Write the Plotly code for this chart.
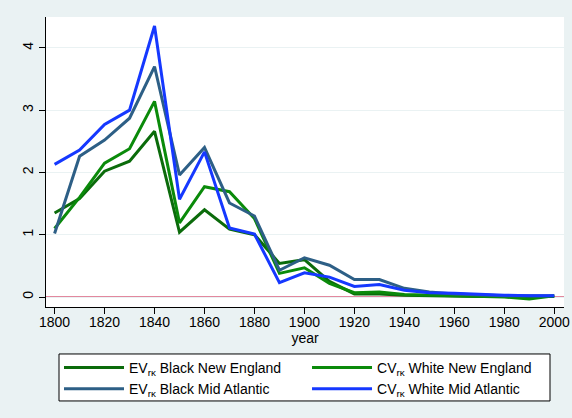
import plotly.graph_objects as go

# Decades covered by the series
years = [1800, 1810, 1820, 1830, 1840, 1850, 1860, 1870, 1880, 1890, 1900,
         1910, 1920, 1930, 1940, 1950, 1960, 1970, 1980, 1990, 2000]

ev_black_ne = [1.35, 1.58, 2.02, 2.18, 2.66, 1.04, 1.40, 1.09, 1.00, 0.54, 0.60,
               0.25, 0.05, 0.05, 0.03, 0.02, 0.02, 0.01, 0.01, 0.01, 0.01]
cv_white_ne = [1.10, 1.60, 2.15, 2.38, 3.14, 1.19, 1.77, 1.69, 1.26, 0.38, 0.47,
               0.22, 0.07, 0.08, 0.04, 0.03, 0.02, 0.01, 0.00, -0.03, 0.02]
ev_black_ma = [1.02, 2.26, 2.52, 2.87, 3.70, 1.96, 2.40, 1.51, 1.30, 0.43, 0.63,
               0.51, 0.28, 0.28, 0.14, 0.08, 0.05, 0.03, 0.02, 0.02, 0.02]
cv_white_ma = [2.13, 2.36, 2.77, 3.00, 4.35, 1.57, 2.33, 1.11, 1.01, 0.23, 0.39,
               0.32, 0.17, 0.20, 0.11, 0.07, 0.06, 0.04, 0.03, 0.02, 0.02]

series_names = [
    "EV<sub>rκ</sub> Black New England",
    "CV<sub>rκ</sub> White New England",
    "EV<sub>rκ</sub> Black Mid Atlantic",
    "CV<sub>rκ</sub> White Mid Atlantic",
]
series_values = [ev_black_ne, cv_white_ne, ev_black_ma, cv_white_ma]
series_colors = ["#0b6b0b", "#0a8a0a", "#2d5f86", "#1538ff"]
# EV series go in the left legend column, CV series in the right one
series_legends = ["legend", "legend2", "legend", "legend2"]

x_ticks = list(range(1800, 2001, 20))
y_ticks = [0, 1, 2, 3, 4]

BG = "#eaf2f3"
FONT = "Liberation Sans, Arial, Helvetica, sans-serif"

fig = go.Figure()
for name, vals, col, leg in zip(series_names, series_values, series_colors, series_legends):
    fig.add_trace(go.Scatter(
        x=years, y=vals, mode="lines", name=name, legend=leg,
        line=dict(color=col, width=3),
    ))

# Reference line at zero
fig.add_shape(type="line", xref="paper", x0=0, x1=1, yref="y", y0=0, y1=0,
              line=dict(color="#d9607e", width=1.8), layer="below")

# Frame around both legend columns
fig.add_shape(type="rect", xref="paper", yref="paper",
              x0=0.0251, x1=0.973, y0=-0.324, y1=-0.162,
              fillcolor="white", line=dict(color="black", width=1), layer="below")

legend_common = dict(
    orientation="v", xanchor="left", y=-0.155, yanchor="top",
    bgcolor="rgba(0,0,0,0)", borderwidth=0,
    font=dict(size=14, family=FONT, color="black"),
    tracegroupgap=0, itemwidth=60,
)

fig.update_layout(
    width=572, height=418,
    margin=dict(l=46, r=8, t=17, b=111, autoexpand=False),
    paper_bgcolor=BG, plot_bgcolor="white",
    font=dict(family=FONT, size=14, color="black"),
    showlegend=True,
    legend=dict(x=0.0251, **legend_common),
    legend2=dict(x=0.5039, **legend_common),
)

fig.update_xaxes(
    range=[1796.56, 2003.9], tickvals=x_ticks,
    showgrid=False, zeroline=False,
    showline=True, linecolor="black", linewidth=1,
    ticks="outside", ticklen=6, tickcolor="black",
    tickfont=dict(size=14), ticklabelstandoff=-4,
    title=dict(text="year", font=dict(size=14), standoff=4),
)
fig.update_yaxes(
    range=[-0.16, 4.495], tickvals=y_ticks,
    showgrid=True, gridcolor=BG, gridwidth=1, zeroline=False,
    showline=True, linecolor="black", linewidth=1,
    ticks="outside", ticklen=6, tickcolor="black",
    tickfont=dict(size=14), tickangle=-90,
)

fig.write_html("out.html")
